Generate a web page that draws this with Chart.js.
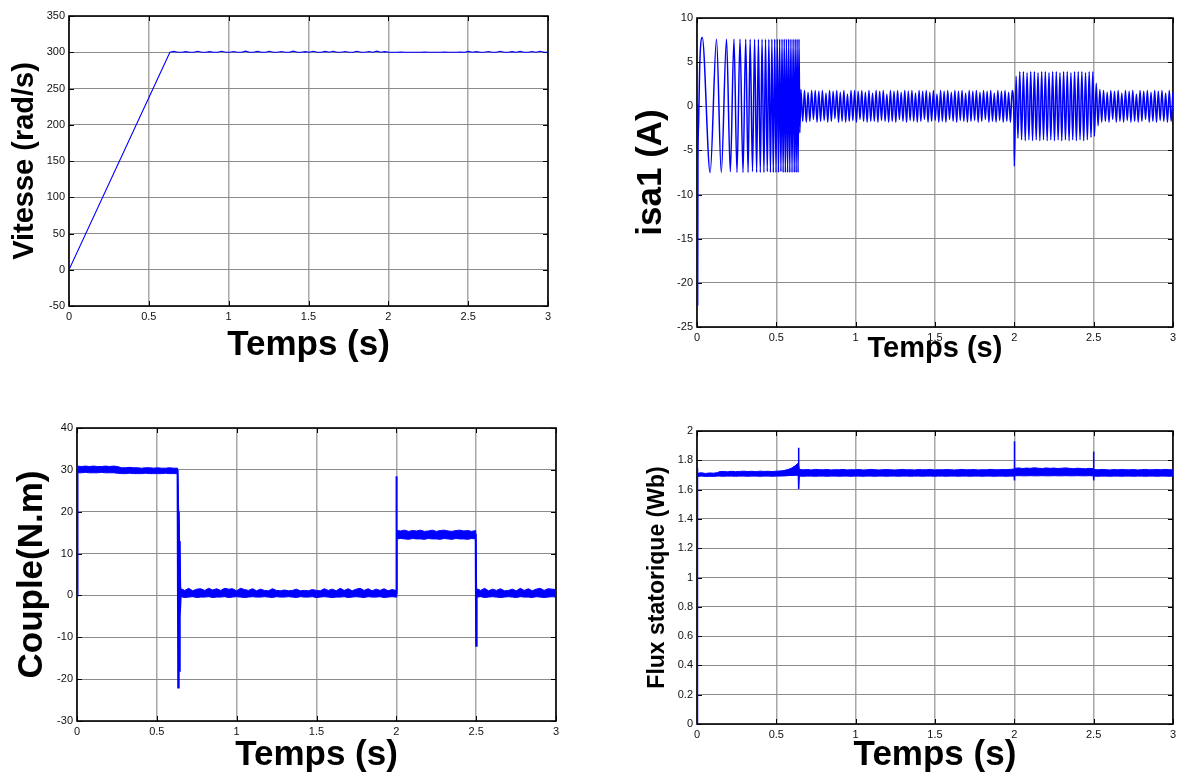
<!DOCTYPE html>
<html><head><meta charset="utf-8">
<script src="https://cdn.jsdelivr.net/npm/chart.js@4.4.1/dist/chart.umd.min.js"></script>
<style>
html,body{margin:0;padding:0;background:#fff;}
#wrap{position:relative;width:1180px;height:776px;overflow:hidden;}
canvas{position:absolute;left:0;top:0;}
</style></head><body><div id="wrap">
<canvas id="c1" width="1180" height="776"></canvas>
<canvas id="c2" width="1180" height="776"></canvas>
<canvas id="c3" width="1180" height="776"></canvas>
<canvas id="c4" width="1180" height="776"></canvas>
</div>
<script>
// ---------- tick labels ----------
const timeTicks = [0, 0.5, 1, 1.5, 2, 2.5, 3];
const vitesseTicks = [-50, 0, 50, 100, 150, 200, 250, 300, 350];
const isaTicks = [-25, -20, -15, -10, -5, 0, 5, 10];
const coupleTicks = [-30, -20, -10, 0, 10, 20, 30, 40];
const fluxTicks = [0, 0.2, 0.4, 0.6, 0.8, 1, 1.2, 1.4, 1.6, 1.8, 2];

// ---------- Vitesse (rad/s) ----------
const speedRampT = [0, 0.632];
const speedRampV = [0, 300];
const speedFlatSpan = [0.632, 3.0];
const speedFlatV = [
  300,301.2,300,300,300.9,300,300,301.3,300,300,
  300.8,300,300,301.4,300,300,301,300,300,301.5,
  300,300,301.2,300,300,301.4,300,300,301.1,300,
  300,301.5,300,300,300.9,300,301.3,300,300,301.2,
  300,301.4,300,300,301,300,300,301.3,300,300,
  301.1,300,301.5,300,300.8,300,300,300,300.3,300,
  300,300,300,300,300.3,300,300,300,300,300.2,
  300,300,300,300.3,300,301.2,300,300.9,300,300,
  301,300,300,301.3,300,300,300.8,300,301.2,300,
  300,301.1,300,301.4,300,300
];

// ---------- isa1 (A) ----------
const isaStartT = [0.002,0.004,0.006,0.010,0.017,0.033,0.083,
  0.123,0.153,0.186,0.210,0.233,0.252,0.271,0.290,0.307,0.322,
  0.335,0.350,0.363,0.376,0.387,0.399,0.410,0.422,0.432,0.443,
  0.453,0.463,0.472,0.481,0.490,0.498,0.506,0.514,0.521,0.529,
  0.536,0.543,0.550,0.557,0.564,0.571,0.578,0.585,0.592,0.599,
  0.606,0.613,0.619,0.625,0.631,0.637,0.643,0.648];
const isaStartV = [0.3,-22.5,-6.5,-2,4.5,7.8,-7.5,
  7.6,-7.5,7.6,-7.4,7.6,-7.5,7.6,-7.5,7.6,-7.5,
  7.6,-7.4,7.6,-7.5,7.6,-7.5,7.6,-7.5,7.6,-7.4,
  7.6,-7.5,7.6,-7.5,7.6,-7.5,7.6,-7.5,7.6,-7.4,
  7.6,-7.5,7.6,-7.5,7.6,-7.5,7.6,-7.5,7.6,-7.5,
  7.6,-7.5,7.6,-7.5,7.6,-7.5,7.6,-3.0];
const isaRunSpan = [0.655, 1.998];
const isaRunV = [
  1.9,-1.7,1.8,-1.8,1.6,-1.7,1.8,-1.5,1.8,-1.8,
  1.7,-1.7,1.8,-1.6,1.5,-1.8,1.8,-1.7,1.7,-1.4,
  1.8,-1.8,1.6,-1.7,1.8,-1.8,1.4,-1.7,1.8,-1.6,
  1.8,-1.8,1.7,-1.5,1.8,-1.7,1.6,-1.8,1.8,-1.7,
  1.5,-1.7,1.8,-1.8,1.7,-1.6,1.8,-1.7,1.4,-1.8,
  1.8,-1.7,1.7,-1.8,1.8,-1.5,1.6,-1.7,1.8,-1.8,
  1.7,-1.6,1.8,-1.7,1.5,-1.8,1.8,-1.7,1.7,-1.5,
  1.8,-1.8,1.6,-1.7,1.8,-1.6,1.4,-1.8,1.8,-1.7,
  1.7,-1.8,1.8,-1.5,1.6,-1.7,1.8,-1.8,1.7,-1.6,
  1.8,-1.7,1.5,-1.8,1.8,-1.7,1.7,-1.6,1.8,-1.8,
  1.6,-1.7,1.8,-1.5,1.7,-1.8,1.8,-1.7,1.5,-1.8,
  1.8,-1.6,1.7,-1.8,1.8,-1.7,1.6,-1.8,1.8,-1.7
];
const isaLoadSpan = [2.0, 2.495];
const isaLoadV = [
  -6.8,3.4,-3.6,3.9,-3.8,3.9,-3.9,3.8,-3.8,3.9,
  -3.9,3.9,-3.8,3.8,-3.9,3.9,-3.8,3.9,-3.9,3.8,
  -3.8,3.9,-3.9,3.9,-3.8,3.8,-3.9,3.9,-3.8,3.9,
  -3.9,3.8,-3.8,3.9,-3.9,3.9,-3.8,3.9,-3.9,3.8,
  -3.8,3.9,-3.5,3.9
];
const isaEndSpan = [2.505, 3.0];
const isaEndV = [
  -3.4,2.6,-2.2,1.9,-1.8,1.8,-1.7,1.6,-1.8,1.8,
  -1.5,1.7,-1.8,1.8,-1.7,1.5,-1.8,1.8,-1.6,1.7,
  -1.8,1.8,-1.7,1.4,-1.8,1.8,-1.7,1.7,-1.5,1.8,
  -1.8,1.6,-1.7,1.8,-1.8,1.7,-1.6,1.8,-1.7,1.5,
  -1.8,1.8,-1.7,1.6
];

// ---------- Couple (N.m): band envelopes per segment + transients ----------
const cplSpanA = [0.003, 0.630];
const cplHiA = [30.9,30.8,30.9,30.8,30.9,30.8,30.8,30.9,30.8,30.9,30.8,30.5,30.5,30.6,30.5,30.5,30.4,30.5,30.5,30.4,30.5,30.4,30.4,30.5,30.4,30.4];
const cplLoA = [29.3,29.3,29.4,29.3,29.3,29.3,29.4,29.3,29.3,29.3,29.2,29.1,29.1,29.2,29.1,29.1,29.1,29.2,29.1,29.1,29.1,29.1,29.2,29.1,29.1,29.1];
const cplSpanB = [0.650, 1.998];
const cplHiB = [
  1.6,1.2,1.7,1.1,1.5,1.6,1.2,1.7,1.3,1.6,
  1.2,1.7,1.5,1.6,1.1,1.7,1.4,1.2,1.6,1.1,
  1.5,1.2,1.1,1.6,1.2,1.1,1.3,1.1,1.2,1.5,
  1.1,1.2,1.1,1.4,1.2,1.1,1.6,1.2,1.5,1.1,
  1.7,1.2,1.6,1.1,1.5,1.7,1.2,1.6,1.1,1.5,
  1.2,1.6,1.1,1.4,1.2];
const cplLoB = [
  -0.3,-0.5,-0.4,-0.3,-0.5,-0.4,-0.4,-0.3,-0.5,-0.4,
  -0.4,-0.3,-0.5,-0.4,-0.3,-0.4,-0.5,-0.4,-0.3,-0.4,
  -0.4,-0.3,-0.4,-0.5,-0.3,-0.4,-0.4,-0.3,-0.4,-0.5,
  -0.3,-0.4,-0.4,-0.3,-0.5,-0.4,-0.3,-0.4,-0.5,-0.4,
  -0.4,-0.3,-0.5,-0.4,-0.3,-0.4,-0.5,-0.3,-0.4,-0.4,
  -0.3,-0.5,-0.4,-0.3,-0.4];
const cplSpanC = [2.003, 2.497];
const cplHiC = [15.5,15.4,15.6,15.3,15.5,15.4,15.6,15.3,15.4,15.6,15.3,15.5,15.6,15.4,15.3,15.5,15.6,15.4,15.5,15.3,15.5];
const cplLoC = [13.5,13.6,13.5,13.4,13.6,13.5,13.5,13.4,13.6,13.5,13.5,13.4,13.6,13.5,13.4,13.6,13.5,13.5,13.4,13.6,13.5];
const cplSpanD = [2.503, 3.0];
const cplHiD = [1.6,1.2,1.7,1.1,1.5,1.2,1.6,1.1,1.2,1.5,1.1,1.7,1.2,1.6,1.1,1.5,1.7,1.2,1.6,1.5,1.4];
const cplLoD = [-0.4,-0.3,-0.5,-0.4,-0.3,-0.4,-0.5,-0.4,-0.3,-0.4,-0.5,-0.3,-0.4,-0.4,-0.5,-0.3,-0.4,-0.5,-0.4,-0.3,-0.4];
const cplSpikeT = [0, 0.003, 0.630, 0.634, 0.637, 0.640, 0.642, 0.645, 0.650, 1.998, 2.000, 2.003, 2.497, 2.500, 2.503];
const cplSpikeV = [0, 30, 29.8, -22, 20, -18, 13, -5, 0.5, 0.5, 28.5, 14.5, 14.5, -12, 0.5];

// ---------- Flux statorique (Wb) ----------
const fluxSpanA = [0.003, 0.13];
const fluxHiA = [1.712,1.715,1.710,1.714,1.712,1.716];
const fluxLoA = [1.690,1.692,1.690,1.691,1.690,1.692];
const fluxSpanB = [0.14, 0.50];
const fluxHiB = [1.722,1.724,1.721,1.725,1.722,1.724,1.726,1.723,1.725,1.722,1.726,1.724,1.725,1.723,1.726];
const fluxLoB = [1.692,1.691,1.692,1.692,1.691,1.692,1.692,1.691,1.692,1.692,1.691,1.692,1.692,1.691,1.692];
const fluxSpanC = [0.52, 0.638];
const fluxHiC = [1.727,1.729,1.733,1.739,1.748,1.762,1.780];
const fluxLoC = [1.692,1.693,1.694,1.696,1.697,1.699,1.701];
const fluxSpanD = [0.645, 1.998];
const fluxHiD = [
  1.738,1.735,1.737,1.734,1.738,1.736,1.735,1.737,1.734,1.736,
  1.735,1.738,1.734,1.736,1.735,1.737,1.734,1.735,1.738,1.736,
  1.734,1.736,1.737,1.735,1.734,1.736,1.738,1.735,1.736,1.734,
  1.737,1.735,1.736,1.738,1.734,1.736,1.735,1.737,1.736,1.734,
  1.736,1.738,1.735,1.736,1.737,1.734,1.736,1.735,1.738,1.736,
  1.735,1.737,1.736,1.738,1.740];
const fluxLoD = [
  1.692,1.691,1.692,1.692,1.691,1.692,1.692,1.691,1.692,1.692,
  1.691,1.692,1.692,1.691,1.692,1.692,1.691,1.692,1.692,1.691,
  1.692,1.692,1.691,1.692,1.692,1.691,1.692,1.692,1.691,1.692,
  1.692,1.691,1.692,1.692,1.691,1.692,1.692,1.691,1.692,1.692,
  1.691,1.692,1.692,1.691,1.692,1.692,1.691,1.692,1.692,1.691,
  1.692,1.692,1.691,1.692,1.692];
const fluxSpanE = [2.003, 2.497];
const fluxHiE = [1.745,1.748,1.744,1.747,1.745,1.749,1.746,1.744,1.748,1.745,1.747,1.744,1.746,1.748,1.745,1.743,1.746,1.744,1.742,1.745,1.743];
const fluxLoE = [1.694,1.695,1.694,1.694,1.695,1.694,1.694,1.695,1.694,1.694,1.695,1.694,1.694,1.695,1.694,1.694,1.695,1.694,1.694,1.695,1.694];
const fluxSpanF = [2.503, 3.0];
const fluxHiF = [1.737,1.735,1.738,1.736,1.734,1.737,1.735,1.738,1.736,1.735,1.737,1.734,1.736,1.738,1.735,1.736,1.737,1.735,1.738,1.736,1.735];
const fluxLoF = [1.692,1.691,1.692,1.692,1.691,1.692,1.692,1.691,1.692,1.692,1.691,1.692,1.692,1.691,1.692,1.692,1.691,1.692,1.692,1.691,1.692];
const fluxSpikeT = [0, 0.002, 0.004, 0.630, 0.638, 0.640, 0.642, 0.645, 1.999, 2.000, 2.001, 2.003, 2.499, 2.500, 2.501, 2.503];
const fluxSpikeV = [0, 1.75, 1.70, 1.70, 1.75, 1.885, 1.605, 1.715, 1.71, 1.93, 1.662, 1.715, 1.71, 1.86, 1.662, 1.715];

// ---------- helpers ----------
function seg(span, vals) {
  const n = vals.length, t0 = span[0], t1 = span[1];
  return vals.map((v, i) => ({x: t0 + (t1 - t0) * i / (n - 1), y: v}));
}
function pairs(ts, vs) { return ts.map((t, i) => ({x: t, y: vs[i]})); }

const FONT = "'Liberation Sans', Arial, Helvetica, sans-serif";
const BLUE = '#0000ff';

const framePlugin = {
  id: 'frame',
  beforeDatasetsDraw(chart) {
    const {ctx, chartArea: {left, right, top, bottom}, scales: {x, y}} = chart;
    ctx.save();
    ctx.strokeStyle = '#000';
    ctx.lineWidth = 1;
    ctx.beginPath();
    x.ticks.forEach(t => {
      const px = Math.round(x.getPixelForValue(t.value)) + 0.5;
      ctx.moveTo(px, bottom); ctx.lineTo(px, bottom - 5);
      ctx.moveTo(px, top); ctx.lineTo(px, top + 5);
    });
    y.ticks.forEach(t => {
      const py = Math.round(y.getPixelForValue(t.value)) + 0.5;
      ctx.moveTo(left, py); ctx.lineTo(left + 5, py);
      ctx.moveTo(right, py); ctx.lineTo(right - 5, py);
    });
    ctx.stroke();
    ctx.lineWidth = 1.6;
    ctx.strokeRect(left, top, right - left, bottom - top);
    ctx.restore();
  }
};

function makeChart(id, c) {
  return new Chart(document.getElementById(id), {
    type: 'line',
    data: {datasets: c.datasets},
    options: {
      responsive: false, animation: false, events: [],
      layout: {padding: c.pad},
      plugins: {legend: {display: false}, tooltip: {enabled: false}},
      elements: {point: {radius: 0}},
      scales: {
        x: {
          type: 'linear', min: 0, max: 3,
          afterBuildTicks: s => { s.ticks = timeTicks.map(v => ({value: v})); },
          afterFit: s => { s.height = c.xh; },
          border: {display: false},
          grid: {color: '#a8a8a8', lineWidth: 1.5, drawTicks: false},
          ticks: {font: {family: FONT, size: 11}, color: '#111', padding: 4, maxRotation: 0, autoSkip: false, callback: v => String(v)},
          title: {display: true, text: 'Temps (s)', color: '#000', font: {family: FONT, size: c.xts, weight: 'bold'}, padding: {top: 0, bottom: c.xpb}}
        },
        y: {
          type: 'linear', min: c.ymin, max: c.ymax,
          afterBuildTicks: s => { s.ticks = c.yticks.map(v => ({value: v})); },
          afterFit: s => { s.width = c.yw; },
          border: {display: false},
          grid: {color: '#8c8c8c', lineWidth: 1, drawTicks: false},
          ticks: {font: {family: FONT, size: 11}, color: '#111', padding: 4, autoSkip: false, callback: v => String(v)},
          title: {display: true, text: c.ytitle, color: '#000', font: {family: FONT, size: c.yts, weight: 'bold'}, padding: {top: c.ypt, bottom: 0}}
        }
      }
    },
    plugins: [framePlugin]
  });
}

// 1. Vitesse
makeChart('c1', {
  pad: {left: 0, right: 632, top: 16, bottom: 400}, yw: 69, xh: 70,
  xts: 35, xpb: 10, ytitle: 'Vitesse (rad/s)', yts: 29, ypt: 8,
  ymin: -50, ymax: 350, yticks: vitesseTicks,
  datasets: [{
    data: pairs(speedRampT, speedRampV).concat(seg(speedFlatSpan, speedFlatV).slice(1)),
    borderColor: BLUE, borderWidth: 1.1, fill: false
  }]
});

// 2. isa1
makeChart('c2', {
  pad: {left: 610, right: 4, top: 18, bottom: 409}, yw: 87, xh: 40,
  xts: 29, xpb: 1, ytitle: 'isa1 (A)', yts: 35, ypt: 20,
  ymin: -25, ymax: 10, yticks: isaTicks,
  datasets: [{
    data: pairs(isaStartT, isaStartV).concat(seg(isaRunSpan, isaRunV), seg(isaLoadSpan, isaLoadV), seg(isaEndSpan, isaEndV)),
    borderColor: BLUE, borderWidth: 1.5, fill: false, cubicInterpolationMode: 'monotone'
  }]
});

// 3. Couple
makeChart('c3', {
  pad: {left: 0, right: 624, top: 428, bottom: 0}, yw: 77, xh: 55,
  xts: 35, xpb: 0, ytitle: 'Couple(N.m)', yts: 35, ypt: 11,
  ymin: -30, ymax: 40, yticks: coupleTicks,
  datasets: [
    {data: seg(cplSpanA, cplHiA).concat(seg(cplSpanB, cplHiB), seg(cplSpanC, cplHiC), seg(cplSpanD, cplHiD)),
     borderColor: BLUE, borderWidth: 1, backgroundColor: BLUE, fill: false},
    {data: seg(cplSpanA, cplLoA).concat(seg(cplSpanB, cplLoB), seg(cplSpanC, cplLoC), seg(cplSpanD, cplLoD)),
     borderColor: BLUE, borderWidth: 1, backgroundColor: BLUE, fill: '-1'},
    {data: pairs(cplSpikeT, cplSpikeV), borderColor: BLUE, borderWidth: 2, fill: false}
  ]
});

// 4. Flux statorique
makeChart('c4', {
  pad: {left: 620, right: 4, top: 431, bottom: 0}, yw: 77, xh: 52,
  xts: 35, xpb: 0, ytitle: 'Flux statorique (Wb)', yts: 23, ypt: 24,
  ymin: 0, ymax: 2, yticks: fluxTicks,
  datasets: [
    {data: seg(fluxSpanA, fluxHiA).concat(seg(fluxSpanB, fluxHiB), seg(fluxSpanC, fluxHiC), seg(fluxSpanD, fluxHiD), seg(fluxSpanE, fluxHiE), seg(fluxSpanF, fluxHiF)),
     borderColor: BLUE, borderWidth: 1, backgroundColor: BLUE, fill: false},
    {data: seg(fluxSpanA, fluxLoA).concat(seg(fluxSpanB, fluxLoB), seg(fluxSpanC, fluxLoC), seg(fluxSpanD, fluxLoD), seg(fluxSpanE, fluxLoE), seg(fluxSpanF, fluxLoF)),
     borderColor: BLUE, borderWidth: 1, backgroundColor: BLUE, fill: '-1'},
    {data: pairs(fluxSpikeT, fluxSpikeV), borderColor: BLUE, borderWidth: 1.5, fill: false}
  ]
});
</script>
</body></html>
